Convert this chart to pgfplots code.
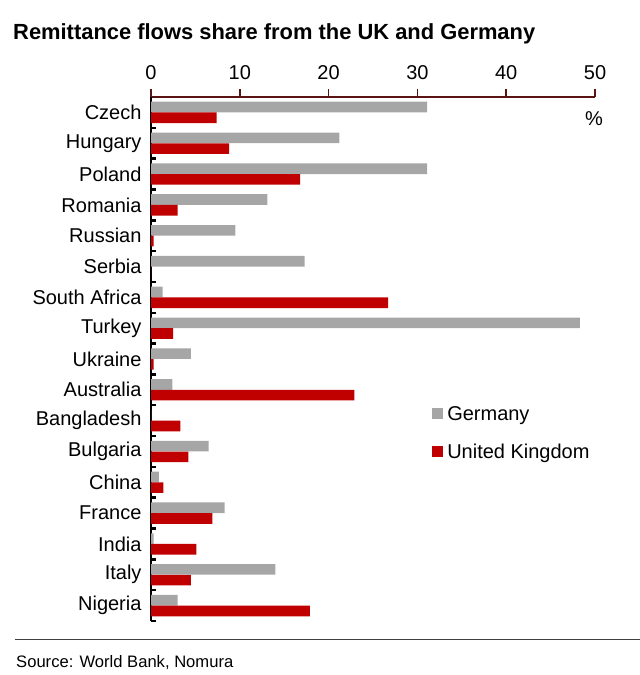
\documentclass[border=0pt]{standalone}
\usepackage{pgfplots}
\pgfplotsset{compat=1.18}
\usepackage{fontspec}
\setmainfont{Liberation Sans}
\definecolor{gbar}{HTML}{A6A6A6}
\definecolor{rbar}{HTML}{C00000}
\definecolor{axred}{RGB}{90,20,20}
\newcommand\fs[1]{\fontsize{#1}{1.2\dimexpr#1\relax}\selectfont}
\begin{document}
\begin{tikzpicture}
\path[use as bounding box] (0,0) rectangle (640bp,675bp);
\node[anchor=base west, inner sep=0, font=\bfseries\fs{21.9bp}] at (13bp,635bp) {Remittance flows share from the UK and Germany};
\draw[black!75, line width=0.9bp] (15bp,36bp) -- (640bp,36bp);
\node[anchor=base west, inner sep=0, font=\fs{16.6bp}] at (16bp,8bp) {Source: World Bank, Nomura};
\node[font=\fs{20bp}, inner sep=0] at (594bp,556bp) {\%};
\begin{axis}[
  at={(151bp,54bp)}, anchor=south west,
  scale only axis, width=444bp, height=524bp,
  xmin=0, xmax=50, ymin=-0.5, ymax=16.5, y dir=reverse,
  axis x line*=top, axis y line*=left,
  x axis line style={draw=axred, line width=2bp},
  y axis line style={draw=black, line width=2.2bp},
  xtick={0,10,...,50},
  tick align=inside,
  x tick style={draw=axred, line width=1.5bp, yshift=8bp},
  major tick length=8bp,
  ytick={0,...,16},
  yticklabels={Czech,Hungary,Poland,Romania,Russian,Serbia,South Africa,Turkey,Ukraine,Australia,Bangladesh,Bulgaria,China,France,India,Italy,Nigeria},
  major y tick style={draw=none},
  minor ytick={-0.5,0.5,...,16.5},
  minor y tick style={draw=black, line width=2.5bp},
  minor tick length=5bp,
  /pgf/number format/assume math mode=true,
  tick label style={font=\fs{20bp}},
  xticklabel style={yshift=14bp},
  yticklabel style={xshift=-6bp},
  legend image code/.code={\fill[#1] (0bp,-5.5bp) rectangle (11bp,5.5bp);},
  legend style={draw=none, fill=none, font=\fs{20bp}, at={(axis description cs:0.633,0.414)}, anchor=north west, row sep=18bp, inner sep=0pt, nodes={inner xsep=4bp}},
  legend cell align=left,
]
\addplot[xbar, fill=gbar, draw=none, bar width=0.345, bar shift=-0.1735] coordinates {
(31.1,0) (21.2,1) (31.1,2) (13.1,3) (9.5,4) (17.3,5) (1.3,6) (48.3,7) (4.5,8) (2.4,9) (0,10) (6.5,11) (0.9,12) (8.3,13) (0.3,14) (14.0,15) (3.0,16)};
\addlegendentry{Germany}
\addplot[xbar, fill=rbar, draw=none, bar width=0.345, bar shift=0.1735] coordinates {
(7.4,0) (8.8,1) (16.8,2) (3.0,3) (0.3,4) (0,5) (26.7,6) (2.5,7) (0.3,8) (22.9,9) (3.3,10) (4.2,11) (1.4,12) (6.9,13) (5.1,14) (4.5,15) (17.9,16)};
\addlegendentry{United Kingdom}
\end{axis}
\end{tikzpicture}
\end{document}
